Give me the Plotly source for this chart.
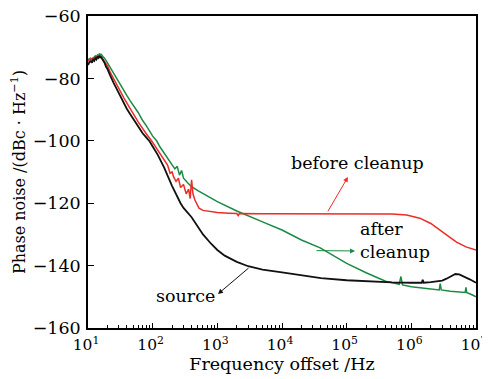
import plotly.graph_objects as go

# ---------------- data ----------------
src_f = [10, 10.5, 11, 11.5, 12, 12.5, 13, 13.5, 14, 14.5, 15, 15.5, 16, 17, 18, 19, 20, 22, 23, 25, 28, 32, 36,
         40, 45, 50, 60, 70, 80, 90, 100, 120, 150, 200, 270, 300, 400, 500, 600, 800, 1000, 1300, 1600,
         2000, 3000, 5000, 1e4, 2e4, 4e4, 1e5, 2e5, 5e5, 1e6, 1.45e6, 1.5e6, 1.55e6, 2e6, 2.6e6, 3e6,
         3.5e6, 4e6, 4.5e6, 4.8e6, 5.5e6, 6.5e6, 8e6, 1e7]
src_v = [-75.7, -74.8, -74.5, -75.0, -74.0, -74.4, -73.5, -73.9, -73.0, -73.4, -72.8, -73.3, -73.2, -74.0, -75.0,
         -76.3, -77.0, -79.0, -80.0, -81.5, -83.5, -86.0, -88.0, -89.8, -91.5, -93.0, -95.5, -97.6, -99.0,
         -100.2, -101.8, -104.5, -108.5, -114.5, -120.0, -121.5, -124.5, -127.5, -130.0, -133.0, -135.0,
         -136.8, -137.8, -138.8, -140.2, -141.3, -142.2, -143.2, -144.0, -144.7, -145.1, -145.4, -145.5,
         -145.5, -144.5, -145.5, -145.3, -145.0, -144.8, -144.2, -143.5, -143.0, -142.7, -142.8, -143.4,
         -144.4, -145.5]

bef_f = [10, 10.5, 11, 11.5, 12, 12.5, 13, 13.5, 14, 14.5, 15, 15.5, 16, 17, 18, 20, 22, 25, 28, 32, 36, 40,
         45, 50, 60, 70, 80, 96, 120, 130, 150, 170, 186, 200, 210, 230, 250, 270, 300, 330, 360, 380, 400,
         420, 450, 480, 520, 600, 800, 1000, 1500, 2000, 2100, 2200, 5000, 1e4, 1e5, 5e5, 8.5e5, 1e6, 1.35e6,
         2e6, 3e6, 3.5e6, 4e6, 5e6, 7e6, 1e7]
bef_v = [-74.5, -74.0, -73.8, -74.3, -73.5, -73.9, -73.2, -73.6, -72.8, -73.2, -72.5, -72.9, -73.0, -73.8, -74.5,
         -76.0, -78.0, -80.0, -82.0, -84.3, -86.3, -88.0, -89.8, -91.3, -94.0, -96.2, -97.8, -100.0, -103.0,
         -103.8, -106.0, -107.8, -110.4, -110.0, -111.5, -113.0, -112.0, -115.0, -114.0, -117.0, -115.5,
         -118.5, -112.5, -117.0, -119.0, -120.0, -121.6, -122.3, -122.8, -123.0, -123.2, -123.3, -124.0,
         -123.3, -123.4, -123.4, -123.4, -123.5, -123.8, -124.2, -124.8, -126.5, -129.0, -130.2, -131.0,
         -132.5, -134.0, -135.0]

aft_f = [10, 10.5, 11, 11.5, 12, 12.5, 13, 13.5, 14, 14.5, 15, 15.5, 16, 17, 18, 20, 22, 25, 28, 32, 36, 40,
         45, 50, 60, 70, 80, 100, 115, 130, 150, 180, 200, 220, 240, 260, 280, 300, 350, 400, 500, 700,
         1000, 2000, 2500, 3000, 5000, 1e4, 2e4, 3.9e4, 1e5, 2e5, 3e5, 4e5, 6e5, 6.5e5, 6.9e5, 7.3e5, 1e6,
         2e6, 2.7e6, 2.8e6, 2.9e6, 4e6, 6e6, 6.8e6, 7e6, 7.2e6, 7.5e6, 8e6, 9e6, 1e7]
aft_v = [-74.0, -73.6, -73.5, -73.9, -73.5, -73.0, -72.8, -73.2, -72.5, -72.8, -72.0, -72.6, -72.3, -73.0, -73.5,
         -75.0, -76.5, -78.5, -80.0, -82.0, -83.8, -85.5, -87.2, -88.5, -91.0, -93.5, -95.2, -98.5, -100.0,
         -102.0, -104.0, -106.5, -108.0, -109.0, -108.2, -111.0, -109.5, -112.0, -113.5, -114.7, -116.0,
         -117.8, -119.5, -122.5, -123.3, -124.0, -126.0, -128.6, -131.8, -134.3, -139.3, -142.3, -144.0,
         -145.0, -145.8, -146.0, -143.5, -146.2, -146.8, -147.5, -147.8, -145.8, -147.8, -148.2, -148.5,
         -148.6, -147.0, -148.7, -148.8, -149.0, -149.5, -150.0]

x_tickvals = [1e1, 1e2, 1e3, 1e4, 1e5, 1e6, 1e7]
x_ticktext = ["10<sup>1</sup>", "10<sup>2</sup>", "10<sup>3</sup>", "10<sup>4</sup>",
              "10<sup>5</sup>", "10<sup>6</sup>", "10<sup>7</sup>"]
y_tickvals = [-60, -80, -100, -120, -140, -160]
y_ticktext = ["\u221260", "\u221280", "\u2212100", "\u2212120", "\u2212140", "\u2212160"]
x_minor_vals = [m * 10 ** e for e in range(1, 7) for m in range(2, 10)]

FONT = "DejaVu Serif"
BLACK = "#111111"
RED = "#ee2b25"
GREEN = "#1b8a45"
FS = 17.5

fig = go.Figure()
fig.add_trace(go.Scatter(x=aft_f, y=aft_v, mode="lines", line=dict(color=GREEN, width=1.5), name="after cleanup"))
fig.add_trace(go.Scatter(x=bef_f, y=bef_v, mode="lines", line=dict(color=RED, width=1.5), name="before cleanup"))
fig.add_trace(go.Scatter(x=src_f, y=src_v, mode="lines", line=dict(color=BLACK, width=1.8), name="source"))

annots = [
    dict(x=5.175, y=-107.1, text="before cleanup", showarrow=False, xanchor="center", yanchor="middle"),
    dict(x=5.02, y=-111.6, ax=4.696, ay=-123.1, axref="x", ayref="y", text="", showarrow=True,
         arrowhead=2, arrowsize=1, arrowwidth=1, arrowcolor=RED),
    dict(x=5.175, y=-132.1, text="after<br>cleanup", showarrow=False, xanchor="left", yanchor="middle", align="left"),
    dict(x=5.13, y=-135.3, ax=4.51, ay=-135.2, axref="x", ayref="y", text="", showarrow=True,
         arrowhead=2, arrowsize=1, arrowwidth=1, arrowcolor=GREEN),
    dict(x=2.5, y=-149.7, text="source", showarrow=False, xanchor="center", yanchor="middle"),
    dict(x=3.01, y=-149.1, ax=3.505, ay=-140.4, axref="x", ayref="y", text="", showarrow=True,
         arrowhead=2, arrowsize=1, arrowwidth=1, arrowcolor=BLACK),
]
for a in annots:
    a["font"] = dict(family=FONT, size=FS, color="black")
    fig.add_annotation(**a)

# page body has an 8px default margin, so the figure is sized/offset to compensate
fig.update_layout(
    width=482, height=371,
    margin=dict(l=80, r=14, t=8, b=51, autoexpand=False),
    paper_bgcolor="white", plot_bgcolor="white",
    showlegend=False,
    font=dict(family=FONT, size=FS, color="black"),
    xaxis=dict(
        type="log", range=[1, 7], automargin=False,
        tickvals=x_tickvals, ticktext=x_ticktext, ticklabeloverflow="allow",
        ticklabelshift=-2, ticklabelstandoff=2,
        ticks="inside", ticklen=5, tickwidth=1, tickcolor="black",
        minor=dict(tickvals=x_minor_vals, ticks="inside", ticklen=3, tickwidth=1,
                   tickcolor="black", showgrid=False),
        showline=True, linecolor="black", linewidth=1.5, mirror=True,
        showgrid=False, zeroline=False,
        title=dict(text="Frequency offset /Hz", font=dict(family=FONT, size=FS), standoff=2),
        tickfont=dict(family=FONT, size=15.5),
    ),
    yaxis=dict(
        range=[-160, -60], automargin=False,
        tickvals=y_tickvals, ticktext=y_ticktext, ticklabeloverflow="allow",
        ticklabelstandoff=2,
        ticks="inside", ticklen=6, tickwidth=1, tickcolor="black",
        showline=True, linecolor="black", linewidth=1.5, mirror=True,
        showgrid=False, zeroline=False,
        title=dict(text="Phase noise /(dBc \u00b7 Hz<sup>\u22121</sup>)", font=dict(family=FONT, size=16), standoff=3),
        tickfont=dict(family=FONT, size=FS),
    ),
)

fig.write_html("out.html")
